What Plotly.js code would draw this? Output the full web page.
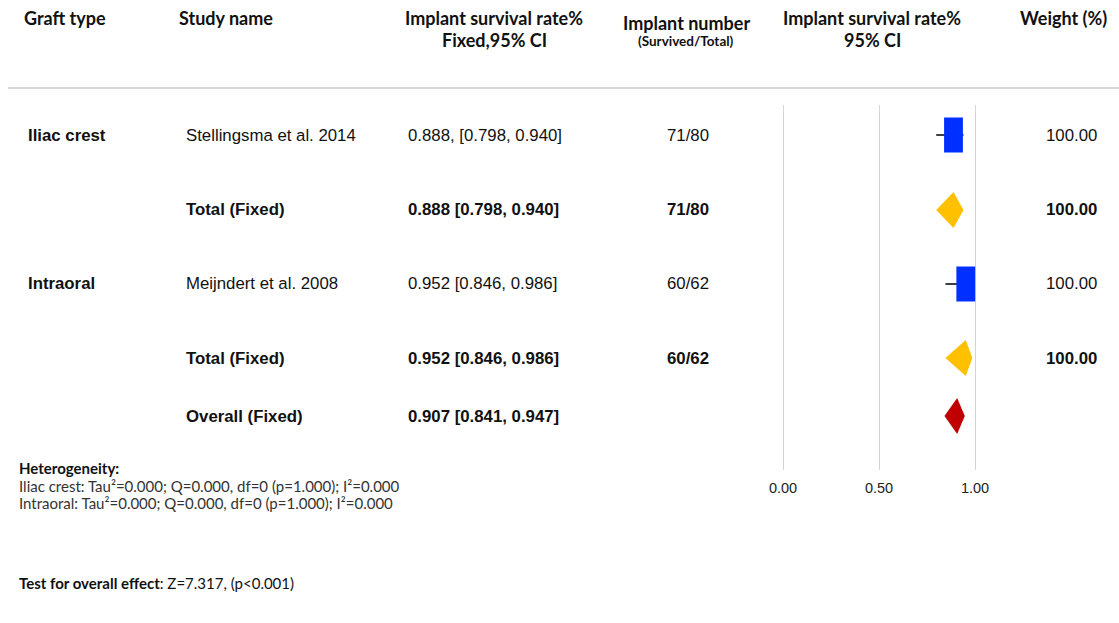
<!DOCTYPE html>
<html><head><meta charset="utf-8">
<script src="https://cdn.plot.ly/plotly-3.0.1.min.js"></script>
<style>html,body{margin:0;padding:0;background:#fff}#chart{width:1119px;height:623px}</style>
</head><body><div id="chart"></div>
<script>
// ---- data ----
const graftTypes = ['Iliac crest', 'Intraoral'];
const studies = ['Stellingsma et al. 2014', 'Meijndert et al. 2008'];
const studyEst = [0.888, 0.952];
const studyLower = [0.798, 0.846];
const studyUpper = [0.940, 0.986];
const studyCI = ['0.888, [0.798, 0.940]', '0.952 [0.846, 0.986]'];
const studyN = ['71/80', '60/62'];
const studyWeight = ['100.00', '100.00'];
const totalEst = [0.888, 0.952];
const totalLower = [0.798, 0.846];
const totalUpper = [0.940, 0.986];
const totalCI = ['0.888 [0.798, 0.940]', '0.952 [0.846, 0.986]'];
const totalN = ['71/80', '60/62'];
const totalWeight = ['100.00', '100.00'];
const overallEst = 0.907, overallLower = 0.841, overallUpper = 0.947;
const overallCI = '0.907 [0.841, 0.947]';
const tickVals = [0, 0.5, 1];
const tickLabels = ['0.00', '0.50', '1.00'];
const heteroLines = [
  'Iliac crest: Tau²=0.000; Q=0.000, df=0 (p=1.000); I²=0.000',
  'Intraoral: Tau²=0.000; Q=0.000, df=0 (p=1.000); I²=0.000'
];
const overallTest = 'Z=7.317, (p<0.001)';

// ---- layout constants ----
const W = 1119, H = 623;
const studyRowY = [135, 284];
const totalRowY = [210, 358];
const overallRowY = 416;
const sqHalfH = 17.5, sqHalfW = 0.049;
const dmHalfH = 18;
const px = x => x / W;
const py = y => 1 - y / H;
const ARIAL = 'Liberation Sans, Arial, sans-serif';
const GOTH = 'Lato, Century Gothic, sans-serif';
const BLUE = '#0030ff', GOLD = '#ffc000', RED = '#c00000';

const traces = [];
for (let i = 0; i < studies.length; i++) {
  traces.push({x: [studyLower[i], studyUpper[i]], y: [studyRowY[i], studyRowY[i]], mode: 'lines',
    line: {color: '#000', width: 1.5}, hoverinfo: 'skip', showlegend: false});
  const e = studyEst[i], y = studyRowY[i];
  traces.push({x: [e - sqHalfW, e + sqHalfW, e + sqHalfW, e - sqHalfW, e - sqHalfW],
    y: [y - sqHalfH, y - sqHalfH, y + sqHalfH, y + sqHalfH, y - sqHalfH],
    mode: 'lines', fill: 'toself', fillcolor: BLUE, line: {width: 0, color: BLUE},
    hoverinfo: 'skip', showlegend: false});
}
function diamond(e, lo, hi, y, col) {
  return {x: [lo, e, hi, e, lo], y: [y, y - dmHalfH, y, y + dmHalfH, y], mode: 'lines',
    fill: 'toself', fillcolor: col, line: {width: 0, color: col}, hoverinfo: 'skip', showlegend: false};
}
for (let i = 0; i < totalEst.length; i++) traces.push(diamond(totalEst[i], totalLower[i], totalUpper[i], totalRowY[i], GOLD));
traces.push(diamond(overallEst, overallLower, overallUpper, overallRowY, RED));

const ann = [];
function t(text, x, y, opt) {
  opt = opt || {};
  const xa = opt.xa || 'left';
  const dx = xa === 'left' ? -1 : (xa === 'right' ? 1 : 0);
  ann.push({text: text, x: px(x + dx), y: py(y), xref: 'paper', yref: 'paper', showarrow: false,
    xanchor: xa, yanchor: 'middle', align: opt.align || 'left', borderpad: 0,
    font: {family: opt.fam || ARIAL, size: opt.size || 16.8, color: opt.color || '#111',
      weight: opt.bold ? 'bold' : 'normal'}});
}
const HB = {fam: GOTH, size: 18, bold: true, color: '#111'};
const C = o => Object.assign({xa: 'center'}, HB, o || {});
t('Graft type', 24, 18, HB);
t('Study name', 179, 18, HB);
t('Implant survival rate%', 494, 18, C());
t('Fixed,95% CI', 494, 40, C());
t('Implant number', 686, 23, C());
t('(Survived/Total)', 686, 41, C({size: 13.5}));
t('Implant survival rate%', 872, 18, C());
t('95% CI', 872, 40, C());
t('Weight (%)', 1063, 18, C());

for (let i = 0; i < studies.length; i++) {
  t(graftTypes[i], 28, studyRowY[i], {bold: true});
  t(studies[i], 186, studyRowY[i]);
  t(studyCI[i], 408, studyRowY[i]);
  t(studyN[i], 688, studyRowY[i], {xa: 'center'});
  t(studyWeight[i], 1097, studyRowY[i], {xa: 'right'});
  t('Total (Fixed)', 186, totalRowY[i], {bold: true});
  t(totalCI[i], 408, totalRowY[i], {bold: true});
  t(totalN[i], 688, totalRowY[i], {xa: 'center', bold: true});
  t(totalWeight[i], 1097, totalRowY[i], {xa: 'right', bold: true});
}
t('Overall (Fixed)', 186, overallRowY, {bold: true});
t(overallCI, 408, overallRowY, {bold: true});

t('<b>Heterogeneity:</b>', 19, 468, {fam: GOTH, size: 15});
t(heteroLines[0], 19, 486, {fam: GOTH, size: 15, color: '#333'});
t(heteroLines[1], 19, 503, {fam: GOTH, size: 15, color: '#333'});
t('<b>Test for overall effect</b>: ' + overallTest, 19, 583, {fam: GOTH, size: 15});

const x0 = 783, unit = 192, rlo = -0.1, rhi = 1.2;
const layout = {
  width: W, height: H, margin: {l: 0, r: 0, t: 0, b: 0},
  paper_bgcolor: '#fff', plot_bgcolor: '#fff',
  xaxis: {range: [rlo, rhi], domain: [px(x0 + rlo * unit), px(x0 + rhi * unit)],
    tickvals: tickVals, ticktext: tickLabels, showgrid: true, gridcolor: '#d4d4d4', gridwidth: 1,
    zeroline: false, showline: false, ticks: '', fixedrange: true, ticklabelstandoff: 7,
    tickfont: {family: ARIAL, size: 14.5, color: '#222'}},
  yaxis: {range: [470, 105], domain: [py(470), py(105)], visible: false, fixedrange: true},
  shapes: [{type: 'line', xref: 'paper', yref: 'paper', x0: px(8), x1: 1, y0: py(88), y1: py(88),
    line: {color: '#c8c8c8', width: 1.5}}],
  annotations: ann, showlegend: false
};
Plotly.newPlot('chart', traces, layout, {displayModeBar: false, staticPlot: true});
</script></body></html>
